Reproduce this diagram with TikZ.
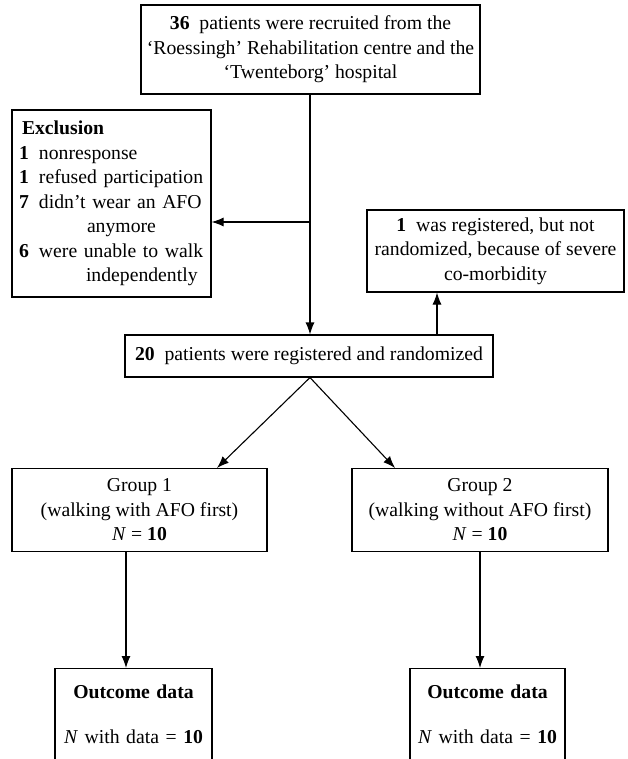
\documentclass[tikz,border=0pt]{standalone}
\usepackage{fontspec}
\setmainfont{Liberation Serif}
\usepackage{tikz}
\usetikzlibrary{arrows.meta,positioning}

\newcommand{\cnt}[1]{\makebox[20pt][l]{\textbf{#1}}}

\begin{document}
\begin{tikzpicture}[
  x=1pt, y=-1pt,
  box/.style={draw, line width=1.1pt, inner sep=0pt, align=center, font=\fontsize{19.7}{24.5}\selectfont},
  flow/.style={->, line width=1.1pt},
  >={Latex[length=12pt,width=9pt]}
]
  \useasboundingbox (0,0) rectangle (627,759);

  % Enrolment
  \node[box, minimum width=339pt, minimum height=89pt] (recruit) at (310.5, 49.5)
    {\textbf{36}\ \ patients were recruited from the\\`Roessingh' Rehabilitation centre and the\\`Twenteborg' hospital};
  \node[box, minimum width=199pt, minimum height=187pt, text width=185pt, align=left] (excl) at (111.5, 203.5)
    {\hspace*{3pt}\textbf{Exclusion}\\
     \cnt{1}nonresponse\\
     \cnt{1}refused participation\\
     \cnt{7}didn't wear an AFO\\
     \hspace*{68pt}anymore\\
     \cnt{6}were unable to walk\\
     \hspace*{67pt}independently};
  \node[box, minimum width=257pt, minimum height=82pt] (notrand) at (495.5, 251)
    {\textbf{1}\ \ was registered, but not\\randomized, because of severe\\co-morbidity};
  \node[box, minimum width=368pt, minimum height=42pt] (regist) at (309, 356)
    {\textbf{20}\ \ patients were registered and randomized};

  % Allocation
  \node[box, minimum width=255pt, minimum height=83pt] (grpA) at (139.5, 510)
    {Group 1\\(walking with AFO first)\\\textit{N} = \textbf{10}};
  \node[box, minimum width=256pt, minimum height=83pt] (grpB) at (480, 510)
    {Group 2\\(walking without AFO first)\\\textit{N} = \textbf{10}};

  % Analysis (boxes run off the bottom edge)
  \node[box, anchor=north, text width=157pt, inner ysep=16pt] (outA) at (133.5, 668)
    {\textbf{Outcome data}\\[21pt]\textit{N} with data = \textbf{10}\\[40pt]~};
  \node[box, anchor=north, text width=155pt, inner ysep=16pt] (outB) at (487.5, 668)
    {\textbf{Outcome data}\\[21pt]\textit{N} with data = \textbf{10}\\[40pt]~};

  % Junction points
  \coordinate (split) at (310, 222);
  \coordinate (up) at (437, 335);
  \coordinate (inA) at (217, 468);
  \coordinate (inB) at (395, 468);
  \coordinate (downA) at (126, 551);
  \coordinate (downB) at (480, 551);

  % Connections
  \draw[flow] (recruit.south -| split) -- (regist.north -| split);
  \draw[flow] (split) -- (split -| excl.east);
  \draw[flow] (up) -- (up |- notrand.south);
  \draw[flow] (regist.south -| split) -- (inA);
  \draw[flow] (regist.south -| split) -- (inB);
  \draw[flow] (downA) -- (downA |- outA.north);
  \draw[flow] (downB) -- (downB |- outB.north);
\end{tikzpicture}
\end{document}
